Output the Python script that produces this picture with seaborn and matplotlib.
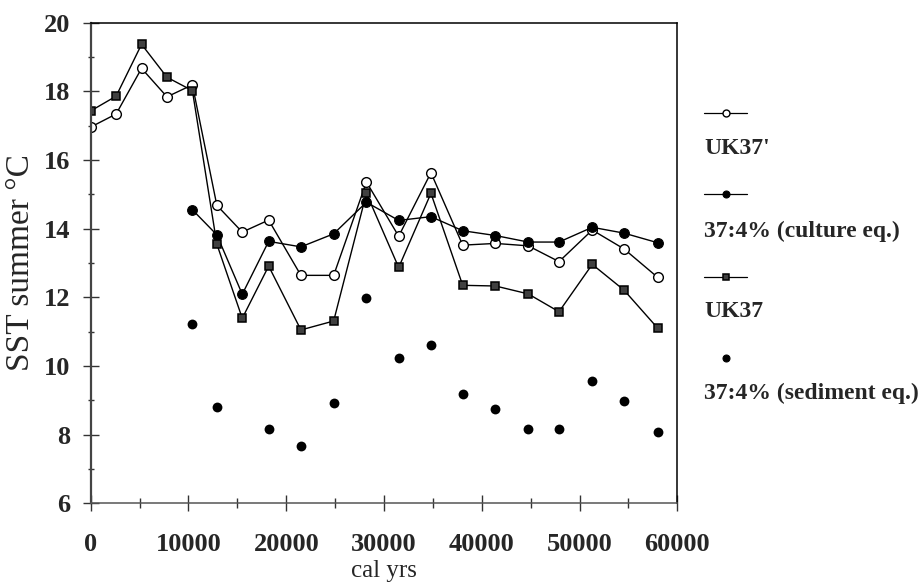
import matplotlib
matplotlib.use("Agg")
import matplotlib.pyplot as plt
import seaborn as sns
import numpy as np
from matplotlib.lines import Line2D
from matplotlib.ticker import MultipleLocator

# Data (cal yrs vs summer SST, degC)
age = [0, 2600, 5200, 7800, 10400, 12900, 15500, 18200, 21500, 24850,
       28200, 31500, 34800, 38050, 41400, 44750, 47900, 51300, 54550, 58000]
uk37_prime = [16.96, 17.34, 18.67, 17.84, 18.19, 14.68, 13.90, 14.25, 12.64, 12.64,
              15.36, 13.78, 15.63, 13.52, 13.57, 13.50, 13.04, 13.96, 13.41, 12.58]
uk37 = [17.43, 17.86, 19.37, 18.41, 18.02, 13.55, 11.39, 12.91, 11.05, 11.31,
        15.03, 12.87, 15.03, 12.35, 12.33, 12.10, 11.58, 12.96, 12.21, 11.10]

age_c37 = [10400, 12900, 15500, 18200, 21500, 24850, 28200, 31500,
           34800, 38050, 41400, 44750, 47900, 51300, 54550, 58000]
c37_culture = [14.55, 13.82, 12.09, 13.63, 13.47, 13.85, 14.77, 14.24,
               14.35, 13.94, 13.80, 13.61, 13.61, 14.04, 13.87, 13.59]
c37_sediment = [11.22, 8.80, np.nan, 8.17, 7.68, 8.92, 11.99, 10.22,
                10.61, 9.19, 8.76, 8.17, 8.17, 9.57, 8.99, 8.09]

labels = ["UK37'", "37:4% (culture eq.)", "UK37", "37:4% (sediment eq.)"]

sns.set_style("ticks")
plt.rcParams['font.family'] = ['Liberation Serif', 'DejaVu Serif']

fig = plt.figure(figsize=(9.23, 5.86), dpi=100)
ax = fig.add_axes([0.0983, 0.1411, 0.7338 - 0.0983, 0.9613 - 0.1411])

ms = 7
sty_open = dict(marker='o', ms=ms, mfc='white', mec='black', mew=1.0)
sty_cult = dict(marker='o', ms=ms, mfc='black', mec='black', mew=0.8)
sty_sq = dict(marker='s', ms=ms - 0.6, mfc='#404040', mec='black', mew=1.1)

sns.lineplot(x=age, y=uk37_prime, ax=ax, color='black', lw=1.0, **sty_open)
sns.lineplot(x=age_c37, y=c37_culture, ax=ax, color='black', lw=1.0, **sty_cult)
sns.lineplot(x=age, y=uk37, ax=ax, color='black', lw=1.0, **sty_sq)
sns.scatterplot(x=age_c37, y=c37_sediment, ax=ax, color='black', s=50,
                marker='o', linewidth=0, zorder=3)

ax.set_xlim(0, 60000)
ax.set_ylim(6, 20)
ax.xaxis.set_major_locator(MultipleLocator(10000))
ax.xaxis.set_minor_locator(MultipleLocator(5000))
ax.yaxis.set_major_locator(MultipleLocator(2))
ax.yaxis.set_minor_locator(MultipleLocator(1))

ax.tick_params(axis='both', which='both', direction='inout', color='#333333',
               top=False, right=False)
ax.tick_params(axis='x', which='major', length=11, width=1.0, pad=16)
ax.tick_params(axis='x', which='minor', length=7, width=1.0)
ax.tick_params(axis='y', which='major', length=11, width=1.0, pad=9)
ax.tick_params(axis='y', which='minor', length=5, width=1.0)
for lab in ax.get_xticklabels() + ax.get_yticklabels():
    lab.set_fontsize(19)
    lab.set_fontweight('bold')

for side in ['top', 'right', 'bottom', 'left']:
    ax.spines[side].set_color('black')
    ax.spines[side].set_linewidth(1.1)
ax.spines['left'].set_color('#444444')
ax.spines['left'].set_linewidth(1.6)
ax.spines['bottom'].set_color('#555555')

ax.set_xlabel('cal yrs', fontsize=18, labelpad=3)
ax.set_ylabel('SST summer °C', fontsize=24, labelpad=6)

# Legend: handle above each label, outside the axes on the right
W, H = 923.0, 586.0
hx0, hx1, hxm = 704 / W, 747 / W, 726 / W
handle_y = [112.7, 194.3, 276.7, 358.3]
label_y = [148.0, 231.7, 311.7, 393.0]
leg_styles = [sty_open, sty_cult, sty_sq, sty_cult]
for i, (lab, st) in enumerate(zip(labels, leg_styles)):
    yy = 1 - handle_y[i] / H
    if i < 3:
        fig.add_artist(Line2D([hx0, hx1], [yy, yy], transform=fig.transFigure,
                              color='black', lw=0.9))
    st2 = dict(st)
    st2['ms'] = 5
    fig.add_artist(Line2D([hxm], [yy], transform=fig.transFigure,
                          color='black', lw=0, **st2))
    fig.text(hx0, 1 - label_y[i] / H, lab, fontsize=17, fontweight='bold',
             ha='left', va='center')

fig.savefig('out.png', dpi=100)
